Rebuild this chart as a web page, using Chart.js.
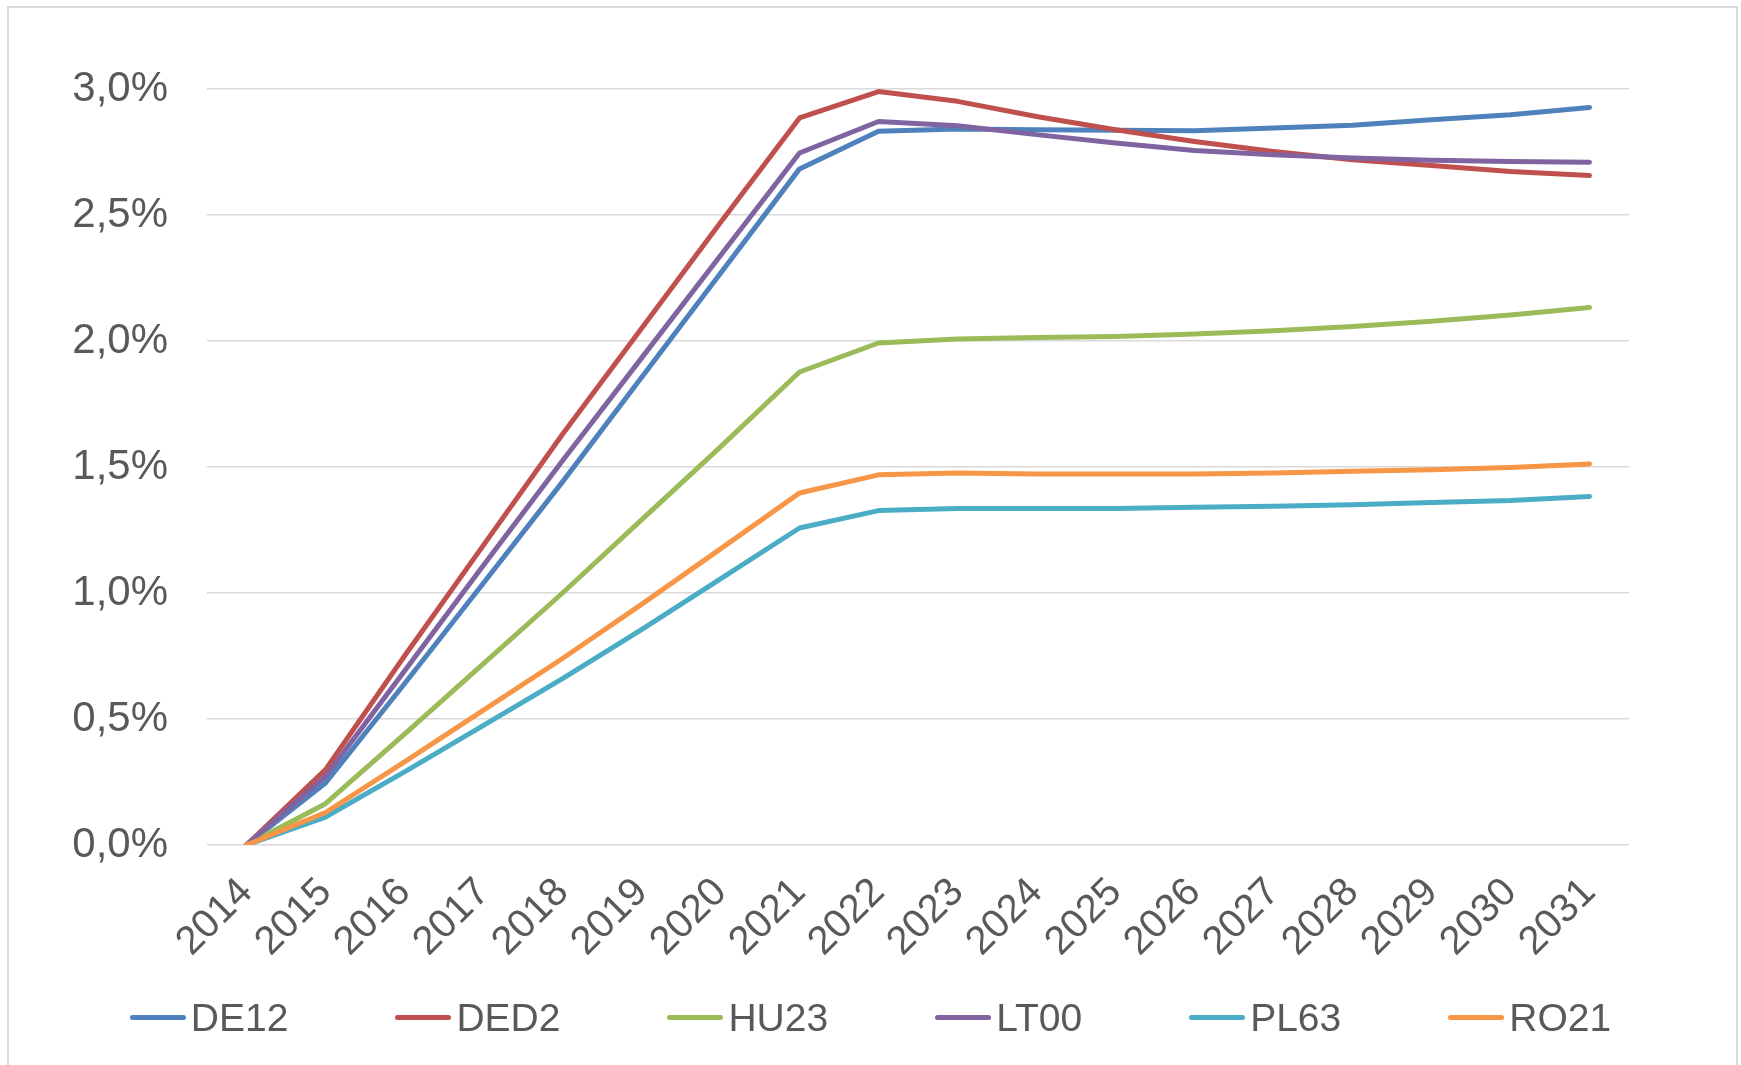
<!DOCTYPE html>
<html lang="en">
<head>
    <meta charset="UTF-8">
    <title>Regional share 2014-2031</title>
    <script src="https://cdn.jsdelivr.net/npm/chart.js"></script>
    <style>
        html, body {
            margin: 0;
            padding: 0;
            background: #ffffff;
            overflow: hidden;
        }

        #chart-frame {
            position: absolute;
            left: 7px;
            top: 6px;
            width: 1727px;
            height: 1100px;
            border: 2px solid #d9d9d9;
            pointer-events: none;
        }

        #line-chart {
            position: absolute;
            left: 0;
            top: 0;
        }

        /* legend sits under the rotated year labels */
        #legend {
            position: absolute;
            left: 0;
            top: 998px;
            width: 1741px;
            display: flex;
            justify-content: center;
            align-items: center;
            gap: 107px;
            font-family: "Liberation Sans", Arial, sans-serif;
            font-size: 39px;
            line-height: 39px;
            color: #595959;
        }

        .legend-item {
            display: flex;
            align-items: center;
        }

        .legend-swatch {
            width: 56px;
            height: 5.5px;
            border-radius: 3px;
            margin-right: 5px;
        }
    </style>
</head>
<body>
    <canvas id="line-chart" width="1741" height="1065"></canvas>
    <div id="legend"></div>
    <div id="chart-frame"></div>

    <script>
        // years on the x axis
        const years = ['2014', '2015', '2016', '2017', '2018', '2019', '2020', '2021', '2022',
            '2023', '2024', '2025', '2026', '2027', '2028', '2029', '2030', '2031'];

        // values in percent
        const de12 = [0, 0.246, 0.64, 1.04, 1.441, 1.855, 2.269, 2.683, 2.832, 2.841, 2.838, 2.836, 2.834, 2.845, 2.856, 2.878, 2.898, 2.927];
        const ded2 = [0, 0.299, 0.75, 1.19, 1.63, 2.05, 2.47, 2.885, 2.990, 2.951, 2.891, 2.838, 2.792, 2.752, 2.719, 2.696, 2.673, 2.657];
        const hu23 = [0, 0.164, 0.44, 0.72, 1.00, 1.29, 1.58, 1.877, 1.992, 2.008, 2.014, 2.018, 2.028, 2.041, 2.058, 2.078, 2.103, 2.133];
        const lt00 = [0, 0.272, 0.69, 1.11, 1.525, 1.932, 2.339, 2.746, 2.871, 2.854, 2.819, 2.786, 2.756, 2.739, 2.726, 2.717, 2.712, 2.709];
        const pl63 = [0, 0.111, 0.29, 0.475, 0.66, 0.855, 1.056, 1.258, 1.327, 1.335, 1.335, 1.335, 1.340, 1.344, 1.350, 1.359, 1.367, 1.383];
        const ro21 = [0, 0.129, 0.33, 0.535, 0.74, 0.955, 1.175, 1.397, 1.469, 1.476, 1.472, 1.472, 1.472, 1.476, 1.483, 1.489, 1.498, 1.512];

        const seriesNames = ['DE12', 'DED2', 'HU23', 'LT00', 'PL63', 'RO21'];
        const seriesValues = [de12, ded2, hu23, lt00, pl63, ro21];
        const seriesColors = ['#4f81bd', '#c0504d', '#9bbb59', '#8064a2', '#4bacc6', '#f79646'];

        const textColor = '#595959';
        const fontFamily = '"Liberation Sans", Arial, sans-serif';

        // Excel draws the first series first, so later ones sit on top
        const datasets = seriesNames.map((name, i) => ({
            label: name,
            data: seriesValues[i],
            borderColor: seriesColors[i],
            backgroundColor: seriesColors[i],
            borderWidth: 5,
            borderCapStyle: 'round',
            borderJoinStyle: 'round',
            pointRadius: 0,
            pointHoverRadius: 0,
            tension: 0,
            fill: false,
            order: seriesNames.length - i
        }));

        const ctx = document.getElementById('line-chart').getContext('2d');
        const chart = new Chart(ctx, {
            type: 'line',
            data: {
                labels: years,
                datasets: datasets
            },
            options: {
                responsive: false,
                animation: false,
                layout: {
                    padding: { left: 0, right: 112, top: 89, bottom: 90 }
                },
                plugins: {
                    tooltip: { enabled: false },
                    legend: { display: false }
                },
                scales: {
                    x: {
                        offset: true,
                        grid: { display: false },
                        border: { display: false },
                        ticks: {
                            minRotation: 45,
                            maxRotation: 45,
                            padding: 16,
                            autoSkip: false,
                            color: textColor,
                            font: { family: fontFamily, size: 40 }
                        },
                        afterFit: (axis) => { axis.height = 130; }
                    },
                    y: {
                        min: 0,
                        max: 3,
                        grid: {
                            color: '#d9d9d9',
                            lineWidth: 1.5,
                            drawTicks: false
                        },
                        border: { display: false },
                        ticks: {
                            stepSize: 0.5,
                            padding: 39,
                            color: textColor,
                            font: { family: fontFamily, size: 42 },
                            callback: (v) => v.toFixed(1).replace('.', ',') + '%'
                        },
                        afterFit: (axis) => { axis.width = 207; }
                    }
                }
            }
        });

        // HTML legend built from the chart's own datasets
        const legendBox = document.getElementById('legend');
        chart.data.datasets.forEach((ds) => {
            const item = document.createElement('div');
            item.className = 'legend-item';
            const swatch = document.createElement('span');
            swatch.className = 'legend-swatch';
            swatch.style.background = ds.borderColor;
            const label = document.createElement('span');
            label.textContent = ds.label;
            item.appendChild(swatch);
            item.appendChild(label);
            legendBox.appendChild(item);
        });
    </script>
</body>
</html>
